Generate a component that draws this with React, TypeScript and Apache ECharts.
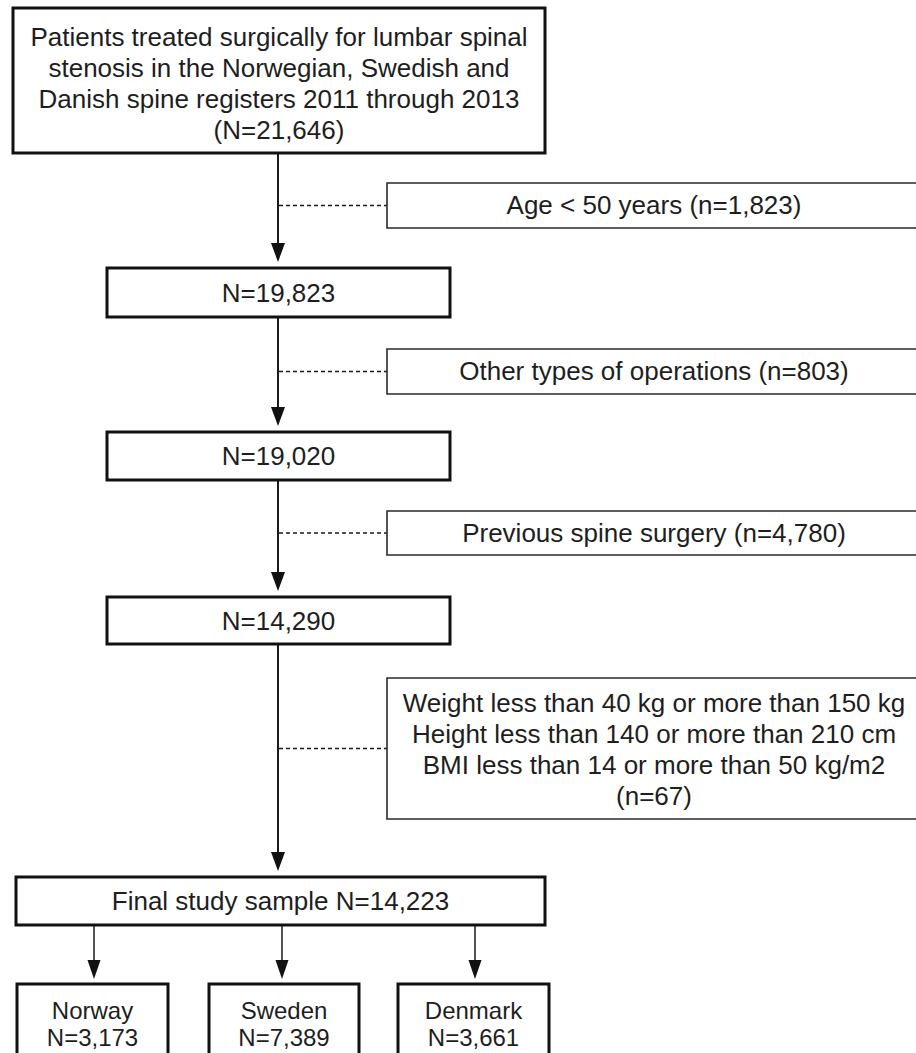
import React, { useEffect, useRef } from "react";
import * as echarts from "echarts";

// ---- data ----
const sourceDescription = [
  "Patients treated surgically for lumbar spinal",
  "stenosis in the Norwegian, Swedish and",
  "Danish spine registers 2011 through 2013",
];
const stageCounts = ["21,646", "19,823", "19,020", "14,290", "14,223"];
const exclusionLabels = [
  ["Age < 50 years"],
  ["Other types of operations"],
  ["Previous spine surgery"],
  [
    "Weight less than 40 kg or more than 150 kg",
    "Height less than 140 or more than 210 cm",
    "BMI less than 14 or more than 50 kg/m2",
  ],
];
const exclusionCounts = ["1,823", "803", "4,780", "67"];
const countries = ["Norway", "Sweden", "Denmark"];
const countryCounts = ["3,173", "7,389", "3,661"];

// ---- layout ----
const W = 916;
const H = 1053;
const FAMILY = '"Liberation Sans", Arial, Helvetica, sans-serif';
const FONT = `26px ${FAMILY}`;
const SMALL_FONT = `24px ${FAMILY}`;
const TEXT_COLOR = "#1e1e1e";
const MAIN_X = 278;
const topBox = { x: 13, y: 8, w: 532, h: 145, lineYs: [37, 68, 99, 130], cx: 279 };
const stageBoxes = [
  { x: 107, y: 268, w: 343, h: 49 },
  { x: 107, y: 432, w: 343, h: 48 },
  { x: 107, y: 597, w: 343, h: 47 },
];
const finalBox = { x: 16, y: 877, w: 529, h: 48 };
const sideBoxes = [
  { x: 387, y: 183, w: 540, h: 45, lineYs: [205] },
  { x: 387, y: 349, w: 540, h: 45, lineYs: [371] },
  { x: 387, y: 511, w: 540, h: 44, lineYs: [533] },
  { x: 387, y: 678, w: 540, h: 141, lineYs: [703, 734, 765, 796] },
];
const sideTextX = 654;
const countryBoxes = [
  { x: 17, w: 151, ax: 94 },
  { x: 209, w: 150, ax: 282 },
  { x: 398, w: 151, ax: 475 },
];
const countryBoxY = 984;
const countryBoxH = 85;
const countryLineYs = [1010, 1037];

function text(str: string, x: number, y: number, font = FONT) {
  return {
    type: "text",
    z: 10,
    style: {
      text: str,
      x,
      y,
      font,
      fill: TEXT_COLOR,
      align: "center",
      verticalAlign: "middle",
      textAlign: "center",
      textVerticalAlign: "middle",
    },
  };
}

function rect(x: number, y: number, w: number, h: number, lw: number, stroke = "#111") {
  return {
    type: "rect",
    z: 5,
    shape: { x, y, width: w, height: h },
    style: { fill: "#fff", stroke, lineWidth: lw },
  };
}

function line(x1: number, y1: number, x2: number, y2: number, lw: number, dash?: number[]) {
  return {
    type: "line",
    z: 2,
    shape: { x1, y1, x2, y2 },
    style: { stroke: "#1a1a1a", lineWidth: lw, lineDash: dash || null },
  };
}

function arrowHead(x: number, tipY: number, hw = 7, hh = 19) {
  return {
    type: "polygon",
    z: 6,
    shape: { points: [[x - hw, tipY - hh], [x + hw, tipY - hh], [x, tipY]] },
    style: { fill: "#111" },
  };
}

function buildGraphics() {
  const els: any[] = [];
  const mainBoxes = [
    { x: topBox.x, y: topBox.y, w: topBox.w, h: topBox.h },
    ...stageBoxes,
    finalBox,
  ];
  for (let i = 0; i < mainBoxes.length - 1; i++) {
    const from = mainBoxes[i];
    const to = mainBoxes[i + 1];
    const y1 = from.y + from.h;
    const tip = to.y - 6;
    els.push(line(MAIN_X, y1, MAIN_X, tip - 10, 2));
    els.push(arrowHead(MAIN_X, tip));
    const sb = sideBoxes[i];
    const dy = sb.y + sb.h / 2;
    els.push(line(MAIN_X + 1, dy, sb.x, dy, 1.5, [4, 3]));
    els.push(rect(sb.x, sb.y, sb.w, sb.h, 1.6, "#2a2a2a"));
    const lines = [...exclusionLabels[i]];
    if (lines.length === 1) {
      lines[0] = `${lines[0]} (n=${exclusionCounts[i]})`;
    } else {
      lines.push(`(n=${exclusionCounts[i]})`);
    }
    lines.forEach((s, k) => els.push(text(s, sideTextX, sb.lineYs[k])));
  }

  els.push(rect(topBox.x, topBox.y, topBox.w, topBox.h, 3));
  const topLines = [...sourceDescription, `(N=${stageCounts[0]})`];
  topLines.forEach((s, k) => els.push(text(s, topBox.cx, topBox.lineYs[k])));

  stageBoxes.forEach((b, i) => {
    els.push(rect(b.x, b.y, b.w, b.h, 3));
    els.push(text(`N=${stageCounts[i + 1]}`, b.x + b.w / 2, b.y + b.h / 2));
  });

  els.push(rect(finalBox.x, finalBox.y, finalBox.w, finalBox.h, 3));
  els.push(
    text(
      `Final study sample N=${stageCounts[stageCounts.length - 1]}`,
      finalBox.x + finalBox.w / 2,
      finalBox.y + finalBox.h / 2
    )
  );

  countryBoxes.forEach((b, i) => {
    const tip = countryBoxY - 5;
    els.push(line(b.ax, finalBox.y + finalBox.h, b.ax, tip - 10, 1.5));
    els.push(arrowHead(b.ax, tip, 6.5, 19));
    els.push(rect(b.x, countryBoxY, b.w, countryBoxH, 3));
    els.push(text(countries[i], b.x + b.w / 2, countryLineYs[0], SMALL_FONT));
    els.push(text(`N=${countryCounts[i]}`, b.x + b.w / 2, countryLineYs[1], SMALL_FONT));
  });
  return els;
}

export default function App() {
  const ref = useRef<HTMLDivElement>(null);
  useEffect(() => {
    document.body.style.margin = "0";
    if (!ref.current) return;
    const chart = echarts.init(ref.current, undefined, { renderer: "svg" });
    chart.setOption({
      animation: false,
      backgroundColor: "#ffffff",
      graphic: { elements: buildGraphics() },
    });
    return () => chart.dispose();
  }, []);
  return (
    <div
      ref={ref}
      style={{ width: W, height: H, position: "absolute", left: 0, top: 0, background: "#fff" }}
    />
  );
}
